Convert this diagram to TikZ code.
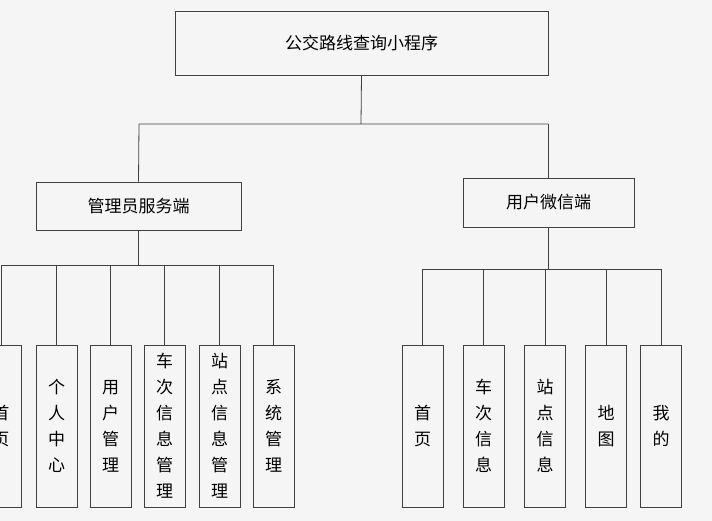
\documentclass[tikz,border=0pt]{standalone}
\usepackage{fontspec}
\newfontfamily\cjk{Noto Sans CJK SC}
\begin{document}
\begin{tikzpicture}[x=1pt,y=-1pt,
  box/.style={draw=black!75,line width=0.8pt,inner sep=0pt,font=\cjk\fontsize{17}{17}\selectfont},
  kid/.style={box,minimum width=41pt,minimum height=162pt,align=center,font=\cjk\fontsize{17}{26}\selectfont},
  ln/.style={draw=black!75,line width=0.8pt}]
\fill[black!4] (0,0) rectangle (712,521);
\useasboundingbox (0,0) rectangle (712,521);
\begin{scope}
\clip (0,0) rectangle (712,521);
\node[box,minimum width=373pt,minimum height=64pt] (root) at (361.5,43) {公交路线查询小程序};
\node[box,minimum width=205pt,minimum height=48pt] (adm) at (138.5,206) {管理员服务端};
\node[box,minimum width=171pt,minimum height=49pt] (usr) at (548.5,202.5) {用户微信端};
\coordinate (j0) at (361,124);
\coordinate (jl) at (139,124);
\coordinate (jr) at (548,124);
\draw[ln] (root.south) -- (j0) (jl) -- (jr);
\draw[ln] (jl) -- (adm.north);
\draw[ln] (jr) -- (usr.north -| jr);
% admin children
\foreach \n/\x/\t in {a0/1/首\\页, a1/56.5/个\\人\\中\\心, a2/110.5/用\\户\\管\\理, a3/164.5/车\\次\\信\\息\\管\\理, a4/219.5/站\\点\\信\\息\\管\\理, a5/273.5/系\\统\\管\\理}{
  \node[kid] (\n) at (\x,426) {\t};
  \draw[ln] (\x,265) -- (\n.north);
}
\coordinate (la) at (1,265);
\coordinate (lb) at (273.5,265);
\draw[ln] (la) -- (lb);
\draw[ln] (adm.south) -- (adm.south |- la);
% user children
\foreach \n/\x/\t in {u0/422.5/首\\页, u1/483.5/车\\次\\信\\息, u2/545/站\\点\\信\\息, u3/606/地\\图, u4/661/我\\的}{
  \node[kid] (\n) at (\x,426) {\t};
  \draw[ln] (\x,269) -- (\n.north);
}
\coordinate (ra) at (422.5,269);
\coordinate (rb) at (661,269);
\draw[ln] (ra) -- (rb);
\draw[ln] (usr.south -| jr) -- (jr |- ra);
\end{scope}
\end{tikzpicture}
\end{document}
